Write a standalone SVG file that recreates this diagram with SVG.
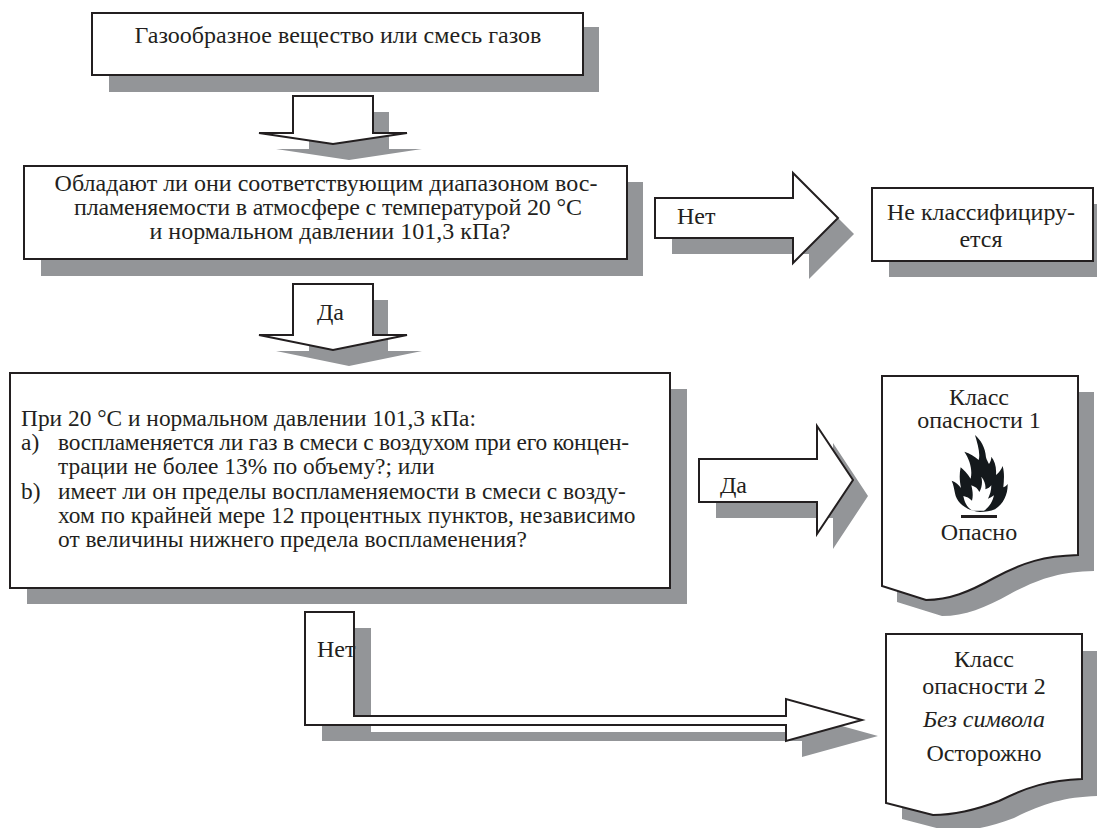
<svg xmlns="http://www.w3.org/2000/svg" width="1097" height="828" viewBox="0 0 1097 828">
<style>
.s{fill:#939598;stroke:none}
.b{fill:#fff;stroke:#231f20;stroke-width:2}
text{font-family:"Liberation Serif","Times New Roman",serif;font-size:24px;fill:#231f20}
.m{text-anchor:middle}
.q{font-size:23.4px}
</style>
<rect width="1097" height="828" fill="#fff"/>
<g id="node-gas">
<rect class="s" x="109" y="27" width="490" height="65"/>
<rect class="b" x="92" y="13" width="491" height="62"/>
<text class="m" x="338" y="43">Газообразное вещество или смесь газов</text>
</g>
<g id="node-question1">
<rect class="s" x="41" y="182" width="602" height="94"/>
<rect class="b" x="24" y="166" width="603" height="93"/>
<text class="m" x="326" y="191">Обладают ли они соответствующим диапазоном вос-</text>
<text class="m" x="328" y="215" textLength="508">пламеняемости в атмосфере с температурой 20 °С</text>
<text class="m" x="330" y="239">и нормальном давлении 101,3 кПа?</text>
</g>
<g id="node-notclassified">
<rect class="s" x="889" y="204" width="208" height="73"/>
<rect class="b" x="872" y="188" width="221" height="73"/>
<text class="m" x="981" y="220">Не классифициру-</text>
<text class="m" x="981" y="247">ется</text>
</g>
<g id="node-question2">
<rect class="s" x="27" y="389" width="660" height="215"/>
<rect class="b" x="10" y="373" width="660" height="215"/>
<text class="q" x="21" y="426">При 20 °С и нормальном давлении 101,3 кПа:</text>
<text class="q" x="21" y="450">a)</text>
<text class="q" x="58" y="450" textLength="571">воспламеняется ли газ в смеси с воздухом при его концен-</text>
<text class="q" x="58" y="474">трации не более 13% по объему?; или</text>
<text class="q" x="21" y="499">b)</text>
<text class="q" x="58" y="499">имеет ли он пределы воспламеняемости в смеси с возду-</text>
<text class="q" x="58" y="523">хом по крайней мере 12 процентных пунктов, независимо</text>
<text class="q" x="58" y="547">от величины нижнего предела воспламенения?</text>
</g>
<g id="node-class1">
<path class="s" d="M897 392H1094V571C1060 572 1040 578 1010 594C985 608 965 616 942 616L897 602Z"/>
<path class="b" d="M882 376H1078V555C1044 556 1024 562 994 578C969 592 949 600 926 600L882 586Z"/>
<text class="m" x="979" y="405">Класс</text>
<text class="m" x="979" y="428">опасности 1</text>
<g id="flame" transform="translate(860 360) scale(.3333)">
<path fill="#14191c" d="M360 456C320 452 290 430 285 400C282 385 280 372 275 362C288 366 296 374 303 384C298 360 298 342 302 322C312 330 322 340 332 356C338 330 330 300 313 275C330 280 344 290 356 300C362 280 352 250 345 225C362 240 376 262 378 292C380 300 384 306 387 312C392 305 394 298 394 290C404 302 410 320 408 345C418 338 424 328 428 318C434 340 432 360 430 382C436 380 440 376 443 372C444 400 432 432 405 448C392 454 376 456 360 456Z"/>
<path fill="#fff" d="M338 452C322 444 314 428 310 408C320 410 328 414 336 422C340 408 338 392 334 376C346 380 354 386 358 396C366 382 368 366 364 350C374 362 378 376 376 388C384 386 390 382 394 376C394 392 390 404 384 416C390 414 396 410 402 406C398 424 388 442 372 452Z"/>
</g>
<rect x="961" y="515" width="36" height="3" fill="#231f20"/>
<text class="m" x="979" y="540">Опасно</text>
</g>
<g id="node-class2">
<path class="s" d="M902 651H1097V796C1064 797 1042 804 1014 818C988 828 968 831 948 831L902 819Z"/>
<path class="b" d="M886 634H1082V779C1049 780 1027 787 999 801C973 811 953 815 933 815L886 803Z"/>
<text class="m" x="984" y="667">Класс</text>
<text class="m" x="984" y="694">опасности 2</text>
<text class="m" x="984" y="727" font-style="italic">Без символа</text>
<text class="m" x="984" y="761">Осторожно</text>
</g>
<g id="connectors">
<g id="arrow-gas-q1">
<path class="s" d="M309 112H389V149H422L349 160L276 149H309Z"/>
<path class="b" d="M293 96H373V133H407L333 144L259 133H293Z"/>
</g>
<g id="arrow-q1-q2">
<path class="s" d="M309 300H388V351H422L349 366L276 351H309Z"/>
<path class="b" d="M293 284H373V335H407L333 350L259 335H293Z"/>
<text x="317" y="320">Да</text>
</g>
<g id="arrow-q1-no">
<path class="s" d="M672 214H809V189L854 234L809 279V254H672Z"/>
<path class="b" d="M655 198H793V173L838 218L793 263V238H655Z"/>
<text x="677" y="224">Нет</text>
</g>
<g id="arrow-q2-yes">
<path class="s" d="M716 475H833V443L868 496L833 549V518H716Z"/>
<path class="b" d="M699 459H817V426L853 480L817 534V502H699Z"/>
<text x="720" y="493">Да</text>
</g>
<g id="arrow-q2-no">
<path class="s" d="M322 628H371V732H802V715L878 736L802 757V741H322Z"/>
<path class="b" d="M305 612H354V716H786V699L862 720L786 741V725H305Z"/>
<text x="317" y="657">Нет</text>
</g>
</g>
</svg>
